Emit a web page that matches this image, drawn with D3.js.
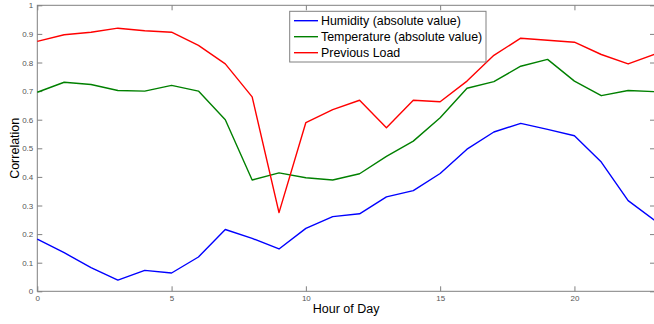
<!DOCTYPE html>
<html>
<head>
<meta charset="utf-8">
<script src="https://cdn.jsdelivr.net/npm/d3@7"></script>
<style>
  body { margin: 0; background: #fff; }
  svg { display: block; font-family: "Liberation Sans", Arial, sans-serif; }
  .tick text { fill: #555; font-size: 8px; }
  .tick line, .domain { stroke: #808080; }
</style>
</head>
<body>
<script>
// hours on the x axis
const hours = d3.range(0, 24);

const humidity = [0.182, 0.135, 0.083, 0.039, 0.073, 0.064, 0.12, 0.216, 0.185, 0.148,
  0.22, 0.261, 0.271, 0.33, 0.352, 0.412, 0.497, 0.557, 0.587, 0.566,
  0.544, 0.452, 0.317, 0.247];

const temperature = [0.696, 0.731, 0.723, 0.702, 0.700, 0.720, 0.700, 0.600, 0.389, 0.414,
  0.397, 0.389, 0.411, 0.472, 0.525, 0.607, 0.710, 0.733, 0.787, 0.811,
  0.735, 0.684, 0.702, 0.698];

const prevLoad = [0.874, 0.897, 0.906, 0.920, 0.911, 0.906, 0.860, 0.795, 0.680, 0.275,
  0.590, 0.635, 0.668, 0.572, 0.668, 0.663, 0.735, 0.825, 0.885, 0.878,
  0.871, 0.828, 0.795, 0.829];

const seriesNames = ["Humidity (absolute value)", "Temperature (absolute value)", "Previous Load"];
const seriesColors = ["#0000ff", "#008000", "#ff0000"];

const xTicks = [0, 5, 10, 15, 20];
const yTicks = d3.range(0, 11).map(d => d / 10);

const width = 654;
const height = 324;
const margin = {top: 5.3, right: -1, bottom: 32.7, left: 37.3};

const svg = d3.select("body")
  .append("svg")
  .attr("width", width)
  .attr("height", height);

const x = d3.scaleLinear()
  .domain([0, 23])
  .range([margin.left, width - margin.right]);

const y = d3.scaleLinear()
  .domain([0, 1])
  .range([height - margin.bottom, margin.top]);

// box round the plot
svg.append("rect")
  .attr("x", x(0))
  .attr("y", y(1))
  .attr("width", x(23) - x(0))
  .attr("height", y(0) - y(1))
  .attr("fill", "none")
  .attr("stroke", "#808080");

// bottom + left axes, ticks point inward
svg.append("g")
  .attr("transform", `translate(0,${y(0)})`)
  .call(d3.axisBottom(x).tickValues(xTicks).tickSize(-5).tickPadding(4).tickFormat(d3.format("d")))
  .call(g => g.select(".domain").remove());

svg.append("g")
  .attr("transform", `translate(${x(0)},0)`)
  .call(d3.axisLeft(y).tickValues(yTicks).tickSize(-5).tickPadding(4).tickFormat(d => d === 0 || d === 1 ? d3.format("d")(d) : d3.format(".1f")(d)))
  .call(g => g.select(".domain").remove());

// top + right tick marks only
svg.append("g")
  .attr("transform", `translate(0,${y(1)})`)
  .call(d3.axisTop(x).tickValues(xTicks).tickSize(-5).tickFormat(""))
  .call(g => g.select(".domain").remove());

svg.append("g")
  .attr("transform", `translate(${x(23)},0)`)
  .call(d3.axisRight(y).tickValues(yTicks).tickSize(-5).tickFormat(""))
  .call(g => g.select(".domain").remove());

const line = d3.line()
  .x((d, i) => x(hours[i]))
  .y(d => y(d));

[humidity, temperature, prevLoad].forEach((s, i) => {
  svg.append("path")
    .datum(s)
    .attr("fill", "none")
    .attr("stroke", seriesColors[i])
    .attr("stroke-width", 1.4)
    .attr("stroke-linejoin", "round")
    .attr("d", line);
});

// axis titles
svg.append("text")
  .attr("x", (x(0) + x(23)) / 2)
  .attr("y", 313)
  .attr("text-anchor", "middle")
  .style("font-size", "12.5px")
  .text("Hour of Day");

svg.append("text")
  .attr("transform", `translate(19,${(y(0) + y(1)) / 2}) rotate(-90)`)
  .attr("text-anchor", "middle")
  .style("font-size", "12.5px")
  .text("Correlation");

// legend
const legend = svg.append("g");
legend.append("rect")
  .attr("x", 289.7)
  .attr("y", 11.3)
  .attr("width", 196.3)
  .attr("height", 50.7)
  .attr("fill", "#fff")
  .attr("stroke", "#808080");

seriesNames.forEach((name, i) => {
  const ly = 20.7 + i * 16;
  legend.append("line")
    .attr("x1", 294).attr("x2", 318)
    .attr("y1", ly).attr("y2", ly)
    .attr("stroke", seriesColors[i])
    .attr("stroke-width", 1.4);
  legend.append("text")
    .attr("x", 321)
    .attr("y", ly + 4.4)
    .style("font-size", "12.4px")
    .text(name);
});
</script>
</body>
</html>
